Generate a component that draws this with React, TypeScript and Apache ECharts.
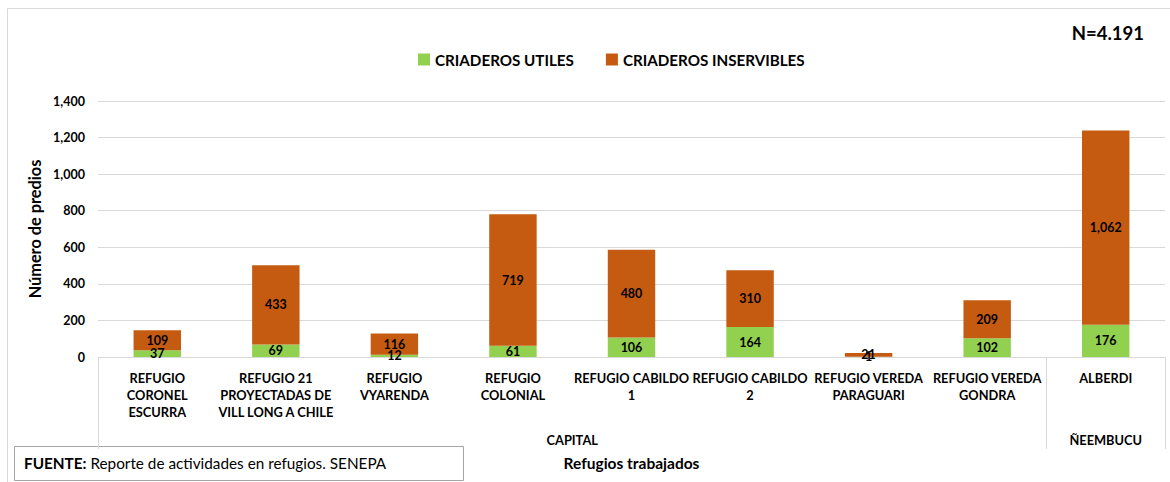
import React, { useEffect, useRef } from "react";
import * as echarts from "echarts";

const categories = [
  "REFUGIO\nCORONEL\nESCURRA",
  "REFUGIO 21\nPROYECTADAS DE\nVILL LONG A CHILE",
  "REFUGIO\nVYARENDA",
  "REFUGIO\nCOLONIAL",
  "REFUGIO CABILDO\n1",
  "REFUGIO CABILDO\n2",
  "REFUGIO VEREDA\nPARAGUARI",
  "REFUGIO VEREDA\nGONDRA",
  "ALBERDI",
];
const utiles = [37, 69, 12, 61, 106, 164, 1, 102, 176];
const inservibles = [109, 433, 116, 719, 480, 310, 21, 209, 1062];
const groupNames = ["CAPITAL", "ÑEEMBUCU"];
const groupSizes = [8, 1];
const yTicks = [0, 200, 400, 600, 800, 1000, 1200, 1400];

const FONT = "Lato";
const fmt = (v: number) => v.toLocaleString("en-US");

export default function App() {
  const ref = useRef<HTMLDivElement>(null);
  useEffect(() => {
    if (!ref.current) return;
    const chart = echarts.init(ref.current, null, { renderer: "svg" });
    const bounds: number[] = [0];
    const centers: number[] = [];
    let acc = 0;
    groupSizes.forEach((s) => {
      centers.push(acc + s / 2);
      acc += s;
      bounds.push(acc);
    });
    const barLabel = {
      show: true,
      position: "inside",
      fontSize: 12.5,
      fontWeight: "bold",
      color: "#000",
      fontFamily: FONT,
      formatter: (p: any) => fmt(p.value),
    };
    chart.setOption({
      animation: false,
      textStyle: { fontFamily: FONT },
      legend: {
        top: 47,
        left: 413,
        itemWidth: 12,
        itemHeight: 12,
        itemGap: 32,
        icon: "rect",
        textStyle: { fontSize: 15.2, fontWeight: "bold", color: "#000", fontFamily: FONT },
        data: ["CRIADEROS UTILES", "CRIADEROS INSERVIBLES"],
      },
      grid: { left: 98, right: 5, top: 101, bottom: 125, containLabel: false },
      xAxis: [
        {
          type: "category",
          data: categories,
          name: "Refugios trabajados",
          nameLocation: "middle",
          nameGap: 98,
          nameTextStyle: { fontSize: 15.5, fontWeight: "bold", color: "#000", fontFamily: FONT },
          axisLine: { show: true, lineStyle: { color: "#d9d9d9" } },
          axisTick: { show: false },
          axisLabel: {
            interval: 0,
            margin: 12,
            fontSize: 12.8,
            fontWeight: "bold",
            color: "#000",
            lineHeight: 17,
            fontFamily: FONT,
          },
        },
        {
          type: "value",
          position: "bottom",
          min: 0,
          max: categories.length,
          axisLine: { show: false },
          splitLine: { show: false },
          axisTick: {
            show: true,
            customValues: bounds,
            length: 92,
            lineStyle: { color: "#d9d9d9" },
          },
          axisLabel: {
            show: true,
            customValues: centers,
            margin: 76,
            fontSize: 12.8,
            fontWeight: "bold",
            color: "#000",
            fontFamily: FONT,
            formatter: (v: number) => {
              const i = centers.indexOf(v);
              return i >= 0 ? groupNames[i] : "";
            },
          },
        },
      ],
      yAxis: {
        type: "value",
        min: 0,
        max: 1400,
        interval: 200,
        name: "Número de predios",
        nameLocation: "middle",
        nameGap: 49,
        nameTextStyle: { fontSize: 16.3, fontWeight: "bold", color: "#000", fontFamily: FONT },
        axisLine: { show: false },
        axisTick: { show: false },
        splitLine: { lineStyle: { color: "#d9d9d9" } },
        axisLabel: {
          margin: 13,
          fontSize: 12.5,
          fontWeight: "bold",
          color: "#000",
          fontFamily: FONT,
          customValues: yTicks,
          formatter: (v: number) => fmt(v),
        },
      },
      series: [
        {
          name: "CRIADEROS UTILES",
          type: "bar",
          stack: "t",
          barWidth: "40%",
          xAxisIndex: 0,
          itemStyle: { color: "#92d050" },
          label: barLabel,
          data: utiles,
        },
        {
          name: "CRIADEROS INSERVIBLES",
          type: "bar",
          stack: "t",
          barWidth: "40%",
          xAxisIndex: 0,
          itemStyle: { color: "#c55a11" },
          label: barLabel,
          data: inservibles,
        },
      ],
      graphic: [
        {
          type: "rect",
          silent: true,
          z: -10,
          shape: { x: 7.5, y: 8.5, width: 1170, height: 480 },
          style: { fill: "none", stroke: "#d9d9d9", lineWidth: 1 },
        },
        {
          type: "text",
          right: 26,
          top: 23,
          style: {
            text: "N=4.191",
            fontSize: 18.5,
            fontWeight: "bold",
            fill: "#000",
            fontFamily: FONT,
          },
        },
        {
          type: "group",
          left: 14,
          top: 446,
          children: [
            {
              type: "rect",
              shape: { x: 0.5, y: 0.5, width: 449, height: 34 },
              style: { fill: "#fff", stroke: "#a6a6a6", lineWidth: 1 },
            },
            {
              type: "text",
              x: 10,
              y: 17,
              style: {
                text: "{b|FUENTE:} Reporte de actividades en refugios. SENEPA",
                fontSize: 15.3,
                fill: "#000",
                fontFamily: FONT,
                verticalAlign: "middle",
                rich: { b: { fontWeight: "bold", fontSize: 15.3, fontFamily: FONT } },
              },
            },
          ],
        },
      ],
    });
    return () => chart.dispose();
  }, []);
  return (
    <div
      ref={ref}
      style={{ position: "absolute", left: 0, top: 0, width: 1170, height: 482, background: "#fff" }}
    />
  );
}
